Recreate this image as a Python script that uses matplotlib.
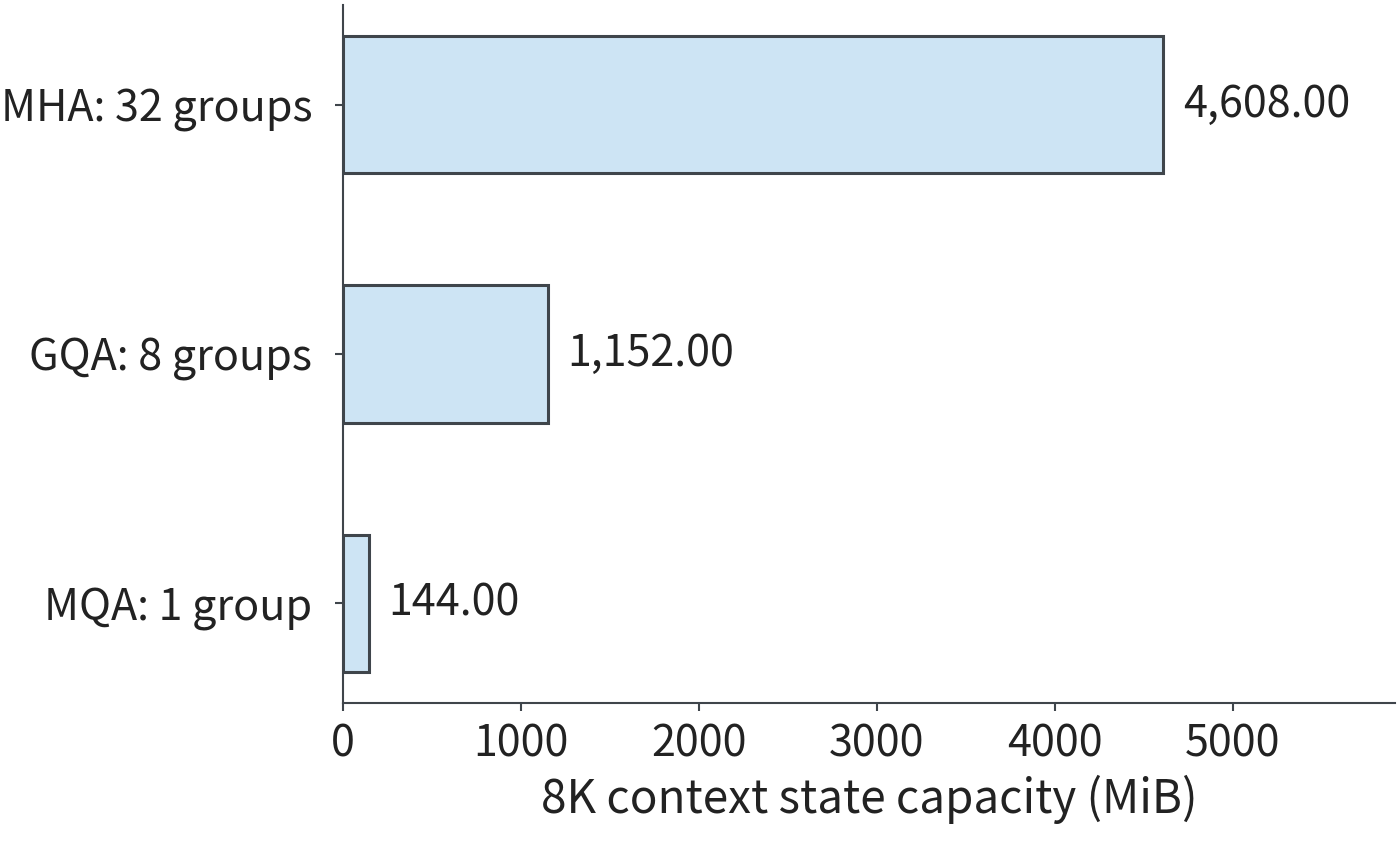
import matplotlib
matplotlib.use("Agg")
import matplotlib.pyplot as plt

categories = ["MQA: 1 group", "GQA: 8 groups", "MHA: 32 groups"]
values = [144.00, 1152.00, 4608.00]
xticks = [0, 1000, 2000, 3000, 4000, 5000]

plt.rcParams['font.family'] = ['Noto Sans CJK JP', 'DejaVu Sans']
fig = plt.figure(figsize=(14, 8.49), dpi=100)
ax = fig.add_axes([343/1400, 1-703/849, (1395-343)/1400, (703-5)/849])
c = "#3f454b"
bars = ax.barh(range(len(categories)), values, height=0.55, color="#cde4f4",
               edgecolor=c, linewidth=2.2)
for i, v in enumerate(values):
    ax.text(v + 110, i, f"{v:,.2f}", va="center", ha="left", fontsize=31, color="#222222")
ax.set_yticks(range(len(categories)))
ax.set_yticklabels(categories)
ax.set_xticks(xticks)
ax.set_xlim(0, 5910)
ax.set_ylim(-0.4, 2.4)
ax.tick_params(labelsize=31, colors="#222222", length=6, width=1.5, color=c)
ax.tick_params(axis="y", pad=16)
ax.tick_params(axis="x", pad=8)
ax.set_xlabel("8K context state capacity (MiB)", fontsize=33, color="#222222", labelpad=6)
for s in ["top", "right"]:
    ax.spines[s].set_visible(False)
for s in ["left", "bottom"]:
    ax.spines[s].set_color(c)
    ax.spines[s].set_linewidth(1.5)
fig.savefig("out.png", dpi=100)
